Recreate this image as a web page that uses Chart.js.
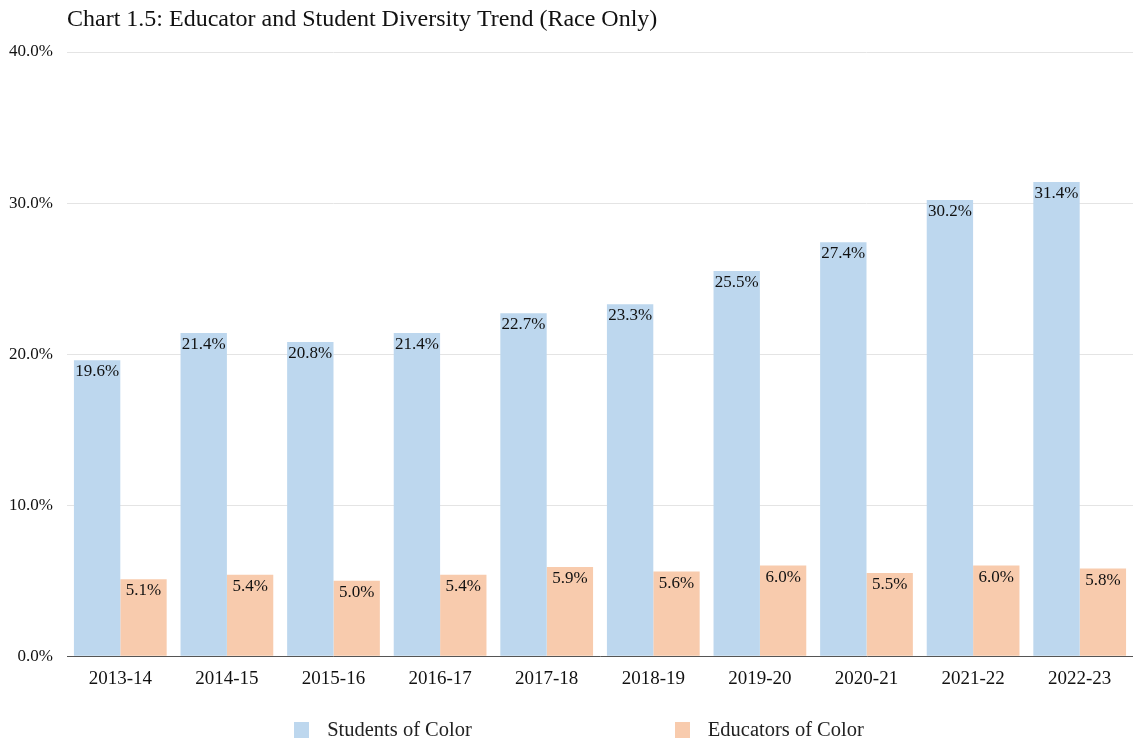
<!DOCTYPE html>
<html>
<head>
<meta charset="utf-8">
<script src="https://cdn.jsdelivr.net/npm/chart.js@4"></script>
<style>
    html, body { margin: 0; padding: 0; background: #fff; }
    #wrap { position: relative; width: 1133px; height: 740px; }
    #legend {
        position: absolute; left: 0; top: 718px; width: 1133px; box-sizing: border-box;
        padding-left: 25px;
        display: flex; justify-content: center; gap: 203px;
        font-family: 'Liberation Serif', 'Times New Roman', serif; font-size: 20.5px; color: #222;
    }
    #legend .item { display: flex; align-items: center; }
    #legend .box { width: 15px; height: 16px; margin-right: 18px; }
</style>
</head>
<body>
<div id="wrap">
    <canvas id="diversityChart" width="1133" height="740"></canvas>
    <div id="legend"></div>
</div>
<script>
const titulo = 'Chart 1.5: Educator and Student Diversity Trend (Race Only)';
const anios = ['2013-14', '2014-15', '2015-16', '2016-17', '2017-18', '2018-19', '2019-20', '2020-21', '2021-22', '2022-23'];
const estudiantes = [19.6, 21.4, 20.8, 21.4, 22.7, 23.3, 25.5, 27.4, 30.2, 31.4];
const educadores = [5.1, 5.4, 5.0, 5.4, 5.9, 5.6, 6.0, 5.5, 6.0, 5.8];
const series = ['Students of Color', 'Educators of Color'];
const colores = ['#bdd7ee', '#f8cbad'];

const fuente = "'Liberation Serif', 'Times New Roman', serif";

// etiquetas de valor dentro de cada barra, arriba
const etiquetasValor = {
    id: 'etiquetasValor',
    afterDatasetsDraw(chart) {
        const ctx = chart.ctx;
        ctx.save();
        ctx.font = `17px ${fuente}`;
        ctx.fillStyle = '#111';
        ctx.textAlign = 'center';
        ctx.textBaseline = 'top';
        chart.data.datasets.forEach((ds, i) => {
            chart.getDatasetMeta(i).data.forEach((bar, j) => {
                ctx.fillText(ds.data[j].toFixed(1) + '%', bar.x, bar.y + 3);
            });
        });
        ctx.restore();
    }
};

// titulo alineado con el area del grafico
const tituloPlugin = {
    id: 'tituloPlugin',
    afterDraw(chart) {
        const ctx = chart.ctx;
        ctx.save();
        ctx.font = `24px ${fuente}`;
        ctx.fillStyle = '#111';
        ctx.textBaseline = 'middle';
        ctx.fillText(titulo, chart.chartArea.left, 20);
        ctx.restore();
    }
};

const ctx = document.getElementById('diversityChart').getContext('2d');
new Chart(ctx, {
    type: 'bar',
    data: {
        labels: anios,
        datasets: [
            { label: series[0], data: estudiantes, backgroundColor: colores[0] },
            { label: series[1], data: educadores, backgroundColor: colores[1] }
        ]
    },
    options: {
        responsive: false,
        animation: false,
        layout: { padding: { top: 52, left: 8, right: 0, bottom: 39 } },
        datasets: { bar: { categoryPercentage: 0.87, barPercentage: 1.0 } },
        plugins: {
            legend: { display: false },
            tooltip: { enabled: false }
        },
        scales: {
            x: {
                grid: { display: false, drawTicks: false },
                border: { color: '#555', width: 1 },
                ticks: { color: '#111', font: { family: fuente, size: 19 }, padding: 11 }
            },
            y: {
                min: 0,
                max: 40,
                afterFit: axis => { axis.width = 59; },
                ticks: {
                    stepSize: 10,
                    color: '#111',
                    font: { family: fuente, size: 17 },
                    padding: 14,
                    callback: v => v.toFixed(1) + '%'
                },
                grid: { color: '#e4e4e4', drawTicks: false },
                border: { display: false }
            }
        }
    },
    plugins: [etiquetasValor, tituloPlugin]
});

// leyenda en HTML para poder separar mucho los elementos
const leyenda = document.getElementById('legend');
series.forEach((nombre, i) => {
    const item = document.createElement('div');
    item.className = 'item';
    item.innerHTML = `<span class="box" style="background:${colores[i]}"></span><span>${nombre}</span>`;
    leyenda.appendChild(item);
});
</script>
</body>
</html>
